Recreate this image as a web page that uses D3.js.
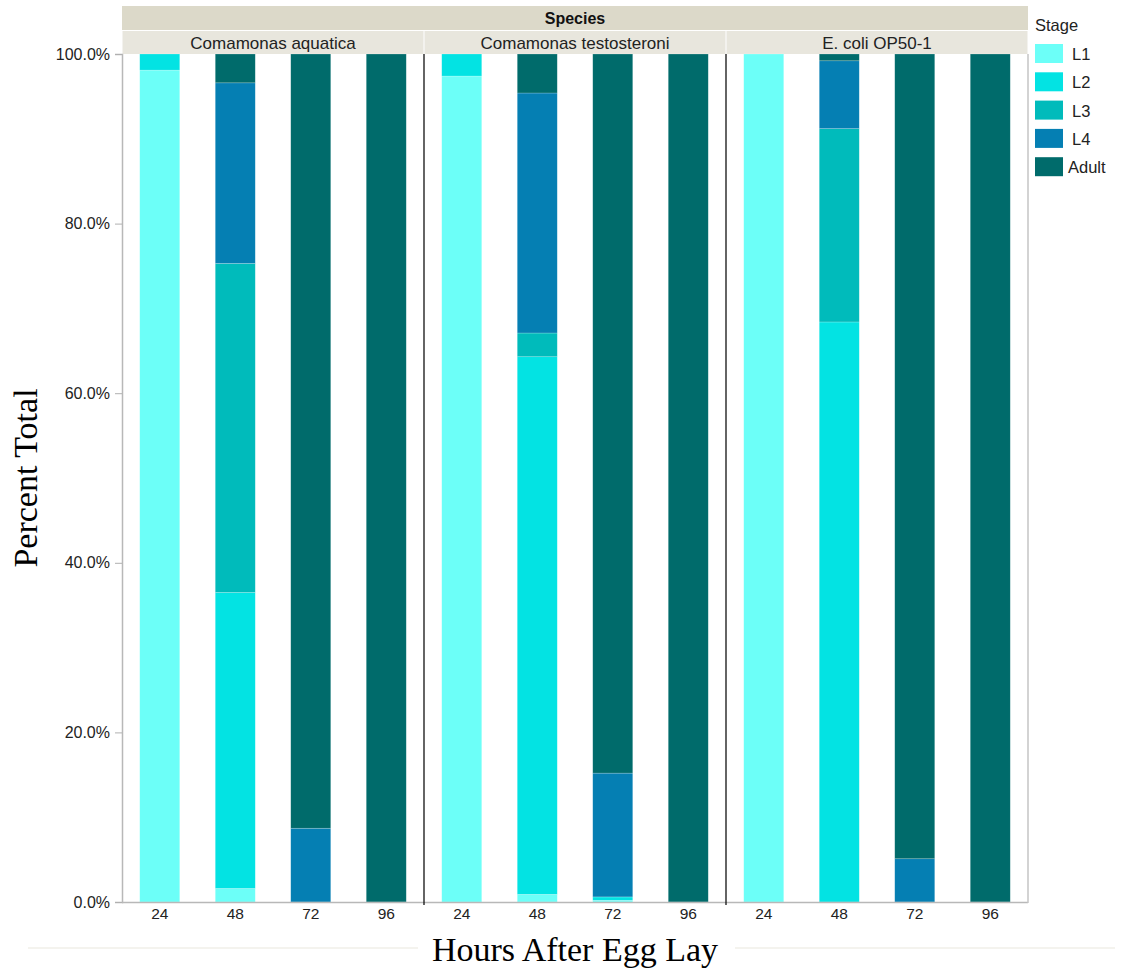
<!DOCTYPE html>
<html>
<head>
<meta charset="utf-8">
<script src="https://cdn.jsdelivr.net/npm/d3@7"></script>
<style>
  body { margin: 0; background: #fff; }
  svg text { font-family: "Liberation Sans", Arial, sans-serif; }
</style>
</head>
<body>
<svg width="1130" height="973"></svg>
<script>
const svg = d3.select("svg");

// data
const species = ["Comamonas aquatica", "Comamonas testosteroni", "E. coli OP50-1"];
const hours = ["24", "48", "72", "96"];
const stages = ["L1", "L2", "L3", "L4", "Adult"];
const stageColors = ["#6cfff8", "#03e3e3", "#00bbbb", "#057fb3", "#006b6b"];

// percent of each stage, per species, per hour (L1, L2, L3, L4, Adult)
const aquatica = [
  [98.1, 1.9, 0, 0, 0],
  [1.6, 34.9, 38.8, 21.3, 3.4],
  [0, 0, 0, 8.7, 91.3],
  [0, 0, 0, 0, 100]
];
const testosteroni = [
  [97.4, 2.6, 0, 0, 0],
  [0.9, 63.4, 2.8, 28.3, 4.6],
  [0.2, 0.4, 0, 14.6, 84.8],
  [0, 0, 0, 0, 100]
];
const ecoli = [
  [100, 0, 0, 0, 0],
  [0, 68.4, 22.8, 8.0, 0.8],
  [0, 0, 0, 5.1, 94.9],
  [0, 0, 0, 0, 100]
];
const values = [aquatica, testosteroni, ecoli];

const yTicks = [0, 20, 40, 60, 80, 100];

// layout
const mLeft = 122, mRight = 1028, mTop = 54, mBottom = 902;

const fx = d3.scaleBand().domain(species).range([mLeft, mRight]);
const x = d3.scaleBand().domain(hours).range([0, fx.bandwidth()]).paddingInner(0.47).paddingOuter(0.235);
const y = d3.scaleLinear().domain([0, 100]).range([mBottom, mTop]);
const color = d3.scaleOrdinal().domain(stages).range(stageColors);

// facet headers
svg.append("rect").attr("x", mLeft).attr("y", 6).attr("width", mRight - mLeft).attr("height", 24)
  .attr("fill", "#dcd9c9");
svg.append("text").attr("x", (mLeft + mRight) / 2).attr("y", 24).attr("text-anchor", "middle")
  .attr("font-size", 16).attr("font-weight", "bold").attr("fill", "#111").text("Species");

species.forEach(s => {
  svg.append("rect").attr("x", fx(s) + 0.5).attr("y", 31).attr("width", fx.bandwidth() - 1).attr("height", 23)
    .attr("fill", "#e8e6dd");
  svg.append("text").attr("x", fx(s) + fx.bandwidth() / 2).attr("y", 48.5).attr("text-anchor", "middle")
    .attr("font-size", 17).attr("fill", "#222").text(s);
});

// bars
const stack = d3.stack().keys(d3.range(stages.length)).value((d, k) => d.vals[k]);
species.forEach((s, i) => {
  const rows = hours.map((h, j) => ({ hour: h, vals: values[i][j] }));
  const series = stack(rows);
  const g = svg.append("g").attr("transform", `translate(${fx(s)},0)`);
  g.selectAll("g")
    .data(series)
    .join("g")
    .attr("fill", d => color(stages[d.key]))
    .selectAll("rect")
    .data(d => d.filter(p => p[1] - p[0] > 0))
    .join("rect")
    .attr("x", d => x(d.data.hour))
    .attr("width", x.bandwidth())
    .attr("y", d => y(d[1]))
    .attr("height", d => y(d[0]) - y(d[1]))
    .attr("stroke", "#ffffff")
    .attr("stroke-opacity", 0.35)
    .attr("stroke-width", 0.6);

  // x axis per panel
  const ax = svg.append("g").attr("transform", `translate(${fx(s)},${mBottom})`)
    .call(d3.axisBottom(x).tickSize(0).tickPadding(6));
  ax.select(".domain").remove();
  ax.selectAll("text").attr("font-size", 15.5).attr("fill", "#222")
    .style("font-family", "Liberation Sans, Arial, sans-serif");
});

// frame lines
svg.append("line").attr("x1", mLeft).attr("x2", mRight).attr("y1", mBottom + 0.5).attr("y2", mBottom + 0.5)
  .attr("stroke", "#b8b8b8").attr("stroke-width", 1.5);
svg.append("line").attr("x1", mRight).attr("x2", mRight).attr("y1", mTop).attr("y2", mBottom + 1)
  .attr("stroke", "#c4c4c4").attr("stroke-width", 1.5);
species.slice(1).forEach(s => {
  svg.append("line").attr("x1", fx(s)).attr("x2", fx(s)).attr("y1", mTop).attr("y2", mBottom + 3)
    .attr("stroke", "#111").attr("stroke-width", 1.3);
});

// y axis
const yAxis = svg.append("g").attr("transform", `translate(${mLeft},0)`)
  .call(d3.axisLeft(y).tickValues(yTicks).tickFormat(d => d3.format(".1f")(d) + "%").tickSize(7).tickPadding(5));
yAxis.select(".domain").attr("stroke", "#b8b8b8").attr("stroke-width", 1.5);
yAxis.selectAll(".tick line").attr("stroke", "#b0b0b0");
yAxis.selectAll("text").attr("font-size", 16).attr("fill", "#222")
  .style("font-family", "Liberation Sans, Arial, sans-serif");

// axis titles
svg.append("text")
  .attr("transform", `translate(37,${(mTop + mBottom) / 2}) rotate(-90)`)
  .attr("text-anchor", "middle")
  .style("font-family", "Liberation Serif, 'Times New Roman', serif")
  .attr("font-size", 34).attr("fill", "#000").text("Percent Total");

svg.append("line").attr("x1", 28).attr("x2", 418).attr("y1", 948).attr("y2", 948)
  .attr("stroke", "#f1efe8").attr("stroke-width", 1.5);
svg.append("line").attr("x1", 735).attr("x2", 1115).attr("y1", 948).attr("y2", 948)
  .attr("stroke", "#f1efe8").attr("stroke-width", 1.5);
svg.append("text")
  .attr("x", (mLeft + mRight) / 2).attr("y", 961)
  .attr("text-anchor", "middle")
  .style("font-family", "Liberation Serif, 'Times New Roman', serif")
  .attr("font-size", 34).attr("fill", "#000").text("Hours After Egg Lay");

// legend
const legend = svg.append("g").attr("transform", "translate(1035,0)");
legend.append("text").attr("x", 0).attr("y", 31).attr("font-size", 16.5).attr("fill", "#222").text("Stage");
const items = legend.selectAll("g.item")
  .data(stages)
  .join("g")
  .attr("class", "item")
  .attr("transform", (d, i) => `translate(0,${44 + i * 28.3})`);
items.append("rect").attr("width", 28).attr("height", 19).attr("fill", d => color(d));
items.append("text").attr("x", d => d === "Adult" ? 33 : 37).attr("y", 16).attr("font-size", 16.5)
  .attr("fill", "#222").text(d => d);
</script>
</body>
</html>
